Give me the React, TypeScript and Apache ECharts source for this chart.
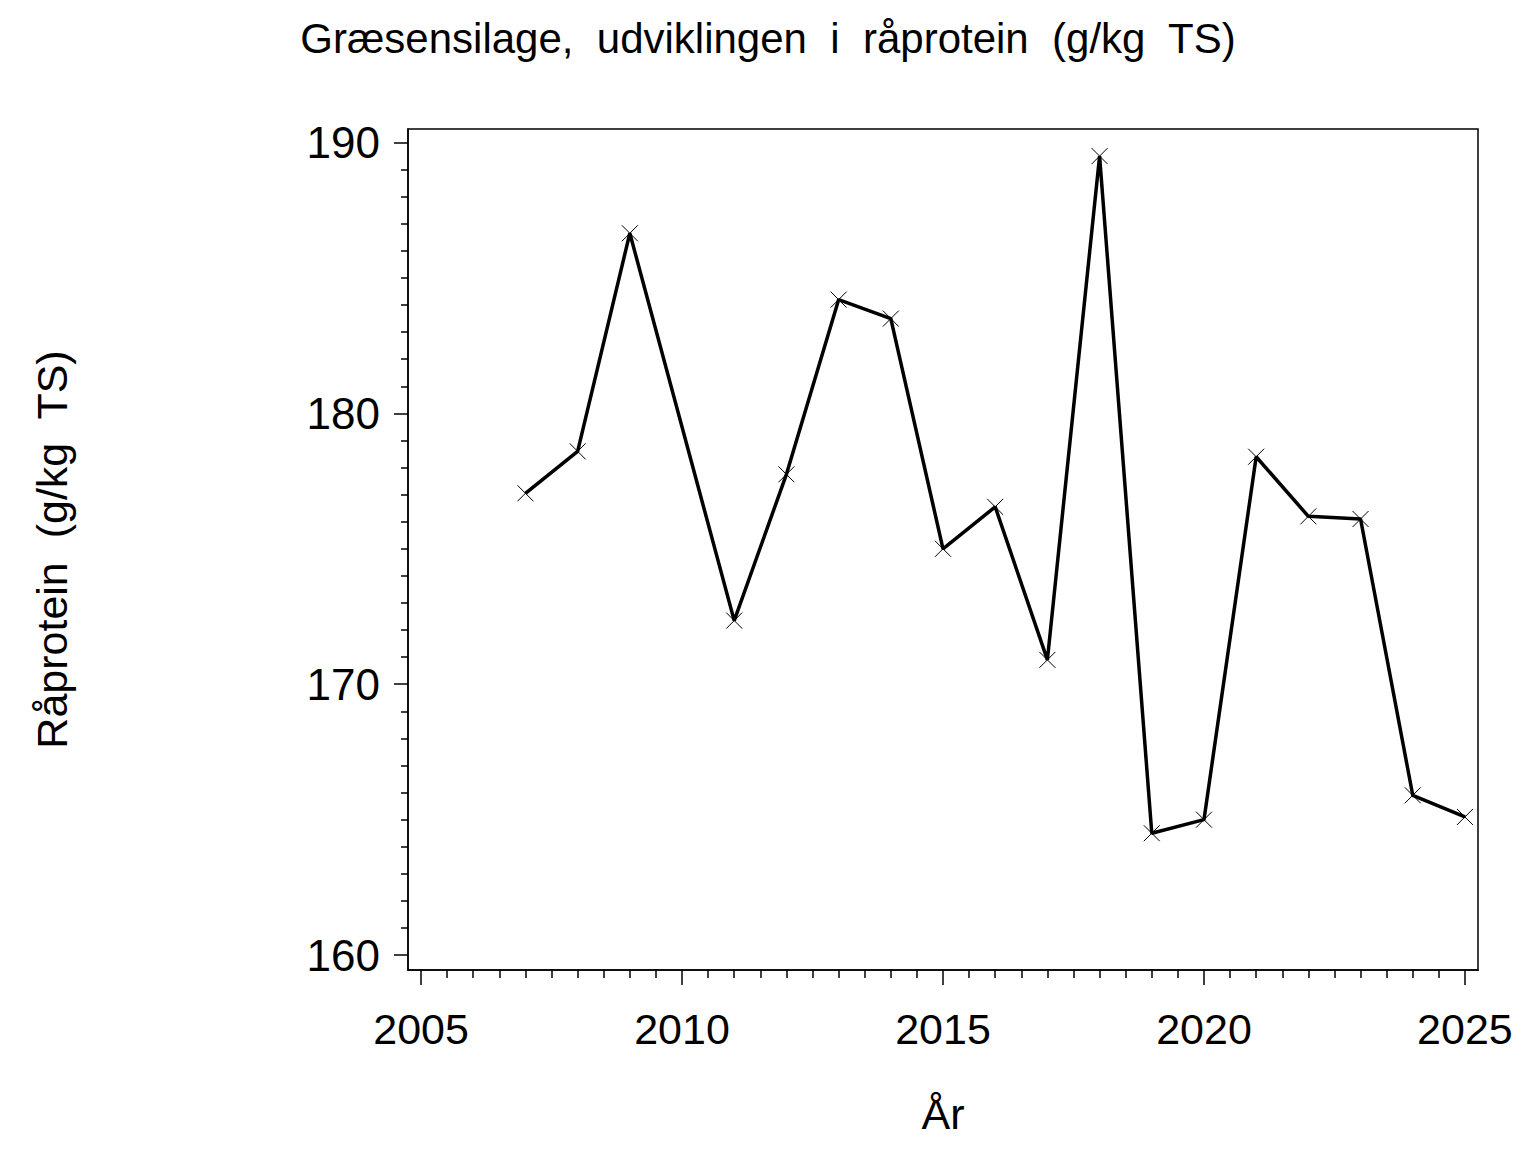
import React, { useEffect, useRef } from "react";
import * as echarts from "echarts";

const years = [2007, 2008, 2009, 2011, 2012, 2013, 2014, 2015, 2016, 2017, 2018, 2019, 2020, 2021, 2022, 2023, 2024, 2025];
const protein = [177.05, 178.6, 186.65, 172.35, 177.75, 184.2, 183.5, 175.0, 176.55, 170.9, 189.5, 164.5, 165.0, 178.4, 176.2, 176.1, 165.9, 165.1];

const xMajorTicks = [2005, 2010, 2015, 2020, 2025];
const xMinorTicks = [
  2005.5, 2006, 2006.5, 2007, 2007.5, 2008, 2008.5, 2009, 2009.5,
  2010.5, 2011, 2011.5, 2012, 2012.5, 2013, 2013.5, 2014, 2014.5,
  2015.5, 2016, 2016.5, 2017, 2017.5, 2018, 2018.5, 2019, 2019.5,
  2020.5, 2021, 2021.5, 2022, 2022.5, 2023, 2023.5, 2024, 2024.5,
];
const yMajorTicks = [160, 170, 180, 190];
const yMinorTicks = [
  161, 162, 163, 164, 165, 166, 167, 168, 169,
  171, 172, 173, 174, 175, 176, 177, 178, 179,
  181, 182, 183, 184, 185, 186, 187, 188, 189,
];

const titleText = "Græsensilage,  udviklingen  i  råprotein  (g/kg  TS)";
const yName = "Råprotein  (g/kg  TS)";
const xName = "År";

const FONT = "'Liberation Sans', Arial, Helvetica, sans-serif";
const X_MIN = 2004.75;
const X_MAX = 2025.25;
const Y_MIN = 159.45;
const Y_MAX = 190.5;

export default function App() {
  const ref = useRef<HTMLDivElement>(null);
  useEffect(() => {
    if (!ref.current) return;
    const chart = echarts.init(ref.current, undefined, { renderer: "svg" });
    const tickStyle = { color: "#000", width: 1.5 };
    chart.setOption({
      animation: false,
      backgroundColor: "#fff",
      title: {
        text: titleText,
        left: "center",
        top: 12,
        textStyle: { fontFamily: FONT, fontSize: 42, fontWeight: "normal", color: "#000" },
      },
      grid: {
        left: 408,
        top: 129,
        right: 58,
        bottom: 182,
        show: true,
        borderColor: "#000",
        borderWidth: 1.5,
        backgroundColor: "transparent",
      },
      xAxis: [
        {
          type: "value",
          min: X_MIN,
          max: X_MAX,
          position: "bottom",
          name: xName,
          nameLocation: "middle",
          nameGap: 122,
          nameTextStyle: { fontFamily: FONT, fontSize: 43, color: "#000" },
          axisLine: { show: true, onZero: false, lineStyle: tickStyle },
          axisTick: { show: true, length: 15, lineStyle: tickStyle, customValues: xMajorTicks },
          axisLabel: {
            show: true,
            customValues: xMajorTicks,
            margin: 37,
            fontFamily: FONT,
            fontSize: 43,
            color: "#000",
            formatter: (v: number) => String(Math.round(v)),
          },
          splitLine: { show: false },
        },
        {
          type: "value",
          min: X_MIN,
          max: X_MAX,
          position: "bottom",
          axisLine: { show: false },
          axisTick: { show: true, length: 8, lineStyle: tickStyle, customValues: xMinorTicks },
          axisLabel: { show: false },
          splitLine: { show: false },
        },
      ],
      yAxis: [
        {
          type: "value",
          min: Y_MIN,
          max: Y_MAX,
          position: "left",
          name: yName,
          nameLocation: "middle",
          nameGap: 335,
          nameRotate: 90,
          nameTextStyle: { fontFamily: FONT, fontSize: 43, color: "#000" },
          axisLine: { show: true, onZero: false, lineStyle: tickStyle },
          axisTick: { show: true, length: 14, lineStyle: tickStyle, customValues: yMajorTicks },
          axisLabel: {
            show: true,
            customValues: yMajorTicks,
            margin: 28,
            fontFamily: FONT,
            fontSize: 44,
            color: "#000",
            formatter: (v: number) => String(Math.round(v)),
          },
          splitLine: { show: false },
        },
        {
          type: "value",
          min: Y_MIN,
          max: Y_MAX,
          position: "left",
          axisLine: { show: false },
          axisTick: { show: true, length: 7, lineStyle: tickStyle, customValues: yMinorTicks },
          axisLabel: { show: false },
          splitLine: { show: false },
        },
      ],
      series: [
        {
          type: "line",
          xAxisIndex: 0,
          yAxisIndex: 0,
          data: years.map((y, i) => [y, protein[i]]),
          lineStyle: { color: "#000", width: 3.5 },
          symbol: "path://M0 0L10 10M10 0L0 10",
          symbolSize: 16,
          showAllSymbol: true,
          itemStyle: { color: "#000", borderColor: "#000", borderWidth: 1 },
          emphasis: { disabled: true },
        },
      ],
    });
    return () => chart.dispose();
  }, []);
  return (
    <div
      ref={ref}
      style={{ position: "absolute", left: 0, top: 0, width: 1536, height: 1152 }}
    />
  );
}
